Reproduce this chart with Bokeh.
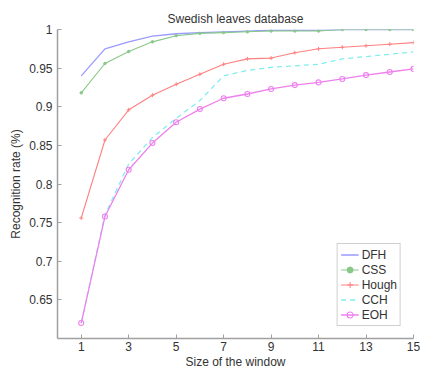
from bokeh.plotting import figure
from bokeh.models import Legend, LegendItem, FixedTicker, Range1d
from bokeh.embed import file_html
from bokeh.resources import INLINE

x = list(range(1, 16))
dfh = [0.940, 0.975, 0.984, 0.9915, 0.9945, 0.996, 0.997, 0.998, 0.999, 0.999, 0.999, 1.0, 1.0, 1.0, 1.0]
css = [0.918, 0.956, 0.9715, 0.984, 0.992, 0.995, 0.996, 0.997, 0.998, 0.998, 0.998, 1.0, 1.0, 1.0, 1.0]
hough = [0.756, 0.857, 0.896, 0.915, 0.929, 0.942, 0.955, 0.962, 0.963, 0.970, 0.975, 0.977, 0.979, 0.981, 0.983]
cch = [0.620, 0.760, 0.826, 0.860, 0.885, 0.908, 0.940, 0.947, 0.951, 0.953, 0.955, 0.962, 0.965, 0.968, 0.971]
eoh = [0.620, 0.758, 0.8185, 0.853, 0.880, 0.897, 0.911, 0.9165, 0.923, 0.928, 0.9315, 0.936, 0.941, 0.945, 0.949]
x_ticks = [1, 3, 5, 7, 9, 11, 13, 15]
y_ticks = [0.65, 0.7, 0.75, 0.8, 0.85, 0.9, 0.95, 1.0]
y_labels = {0.65: "0.65", 0.7: "0.7", 0.75: "0.75", 0.8: "0.8", 0.85: "0.85", 0.9: "0.9", 0.95: "0.95", 1.0: "1"}

FONT = "Liberation Sans"
TXT = "#333333"
AX = "#a0a0a0"

p = figure(width=420, height=371, output_backend="svg", toolbar_location=None,
           x_range=Range1d(0, 15), y_range=Range1d(0.6, 1.0),
           min_border_left=57, min_border_right=7, min_border_top=29, min_border_bottom=30)
p.title.text = "Swedish leaves database"
p.title.align = "center"
p.title.text_font = FONT
p.title.text_font_size = "12px"
p.title.text_font_style = "normal"
p.title.text_color = TXT
p.title.offset = 0
p.title.standoff = 7

p.xgrid.visible = False
p.ygrid.visible = False
p.outline_line_color = None

for ax in (p.xaxis[0], p.yaxis[0]):
    ax.axis_line_color = AX
    ax.axis_line_width = 1.5
    ax.major_tick_line_color = AX
    ax.major_tick_in = 4
    ax.major_tick_out = 0
    ax.minor_tick_line_color = None
    ax.major_label_text_font = FONT
    ax.major_label_text_font_size = "12px"
    ax.major_label_text_color = TXT
    ax.axis_label_text_font = FONT
    ax.axis_label_text_font_size = "12px"
    ax.axis_label_text_font_style = "normal"
    ax.axis_label_text_color = TXT

p.xaxis.ticker = FixedTicker(ticks=x_ticks)
p.yaxis.ticker = FixedTicker(ticks=y_ticks)
p.yaxis.major_label_overrides = y_labels
p.xaxis.axis_label = "Size of the window"
p.yaxis.axis_label = "Recognition rate (%)"
p.xaxis.major_label_standoff = 3
p.yaxis.major_label_standoff = 5
p.xaxis.axis_label_standoff = 1
p.yaxis.axis_label_standoff = 3

c_dfh = "#9a9aff"
c_css = "#88c888"
c_hough = "#ff8080"
c_cch = "#80eeee"
c_eoh = "#ee80ee"

r_dfh = p.line(x, dfh, line_color=c_dfh, line_width=1.3)
r_css = p.line(x, css, line_color=c_css, line_width=1.1)
m_css = p.scatter(x, css, marker="circle", size=2.5, color=c_css)
r_hough = p.line(x, hough, line_color=c_hough, line_width=1.1)
m_hough = p.scatter(x, hough, marker="cross", size=4, line_color=c_hough, line_width=1)
r_cch = p.line(x, cch, line_color=c_cch, line_width=1.3, line_dash="5 4")
r_eoh = p.line(x, eoh, line_color=c_eoh, line_width=1.3)
m_eoh = p.scatter(x, eoh, marker="circle", size=5, fill_color=None, line_color=c_eoh, line_width=1.1)

legend = Legend(items=[
    LegendItem(label="DFH", renderers=[r_dfh]),
    LegendItem(label="CSS", renderers=[r_css, m_css]),
    LegendItem(label="Hough", renderers=[r_hough, m_hough]),
    LegendItem(label="CCH", renderers=[r_cch]),
    LegendItem(label="EOH", renderers=[r_eoh, m_eoh]),
], location="bottom_right")
legend.label_text_font = FONT
legend.label_text_font_size = "12px"
legend.label_text_color = TXT
legend.border_line_color = "#a0a0a0"
legend.border_line_width = 1.5
legend.background_fill_alpha = 1.0
legend.glyph_width = 18
legend.glyph_height = 15
legend.label_height = 15
legend.spacing = 0
legend.padding = 3
legend.margin = 12
legend.label_standoff = 3
p.add_layout(legend)

open("out.html", "w").write(file_html(p, INLINE))
